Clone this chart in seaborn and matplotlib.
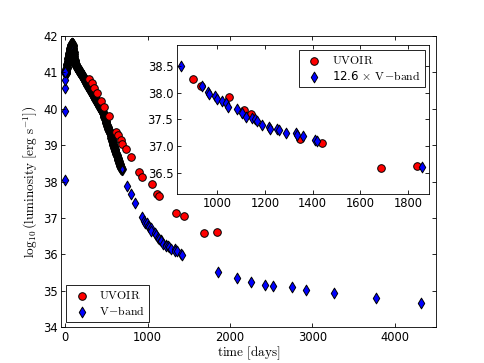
import numpy as np
import pandas as pd
import seaborn as sns
import matplotlib.pyplot as plt

# UVOIR bolometric light curve (days, log10 L)
uvoir_days = [293, 321, 353, 386, 434, 474, 526, 614, 643, 675, 695, 735, 795,
              897, 932, 1050, 1112, 1140, 1347, 1438, 1689, 1840]
uvoir_logl = [40.83, 40.70, 40.58, 40.44, 40.21, 40.05, 39.80, 39.36, 39.27, 39.15,
              39.04, 38.88, 38.67, 38.26, 38.12, 37.92, 37.67, 37.61, 37.14, 37.06,
              36.59, 36.62]

# V-band: first nights
v_first_days = [0.3, 0.6, 1.0, 1.5, 2.0]
v_first_logl = [38.03, 39.93, 40.56, 40.80, 41.00]

# V-band: rise to peak and drop
v_rise_days = [3, 4, 6, 8, 10, 13, 16, 19, 22, 25, 28, 31, 34, 37, 40, 43, 46, 49,
               52, 55, 58, 61, 64, 67, 70, 73, 76, 79, 82, 85, 88, 91, 94, 97, 100,
               103, 106, 109, 112, 115, 118, 121, 124, 127]
v_rise_logl = [41.00, 40.98, 40.99, 41.01, 41.04, 41.08, 41.12, 41.16, 41.20, 41.24,
               41.28, 41.32, 41.36, 41.40, 41.44, 41.47, 41.51, 41.54, 41.57, 41.60,
               41.63, 41.66, 41.68, 41.70, 41.72, 41.74, 41.76, 41.77, 41.78, 41.78,
               41.77, 41.75, 41.72, 41.68, 41.63, 41.57, 41.51, 41.45, 41.39, 41.34,
               41.30, 41.27, 41.24, 41.22]

# V-band: radioactive tail
v_tail_days = [130, 135, 140, 145, 150, 155, 160, 165, 170, 175, 180, 185, 190, 195,
               200, 205, 210, 215, 220, 225, 230, 235, 240, 245, 250, 255, 260, 265,
               270, 275, 280, 285, 290, 295, 300, 305, 310, 315, 320, 325, 330, 335,
               340, 345, 350, 355, 360, 365, 370, 375, 380, 385, 390, 395, 400, 405,
               410, 415, 420, 425, 430, 435, 440, 445, 450, 455, 460, 465, 470, 475,
               480, 485, 490, 495, 500, 505, 510, 515, 520, 525, 530, 535, 540, 545,
               550, 555, 560, 565, 570, 575, 580, 585, 590, 595, 600, 605, 610, 615,
               620, 625, 630, 635, 640, 645, 650, 655, 660, 665, 670, 675, 680, 685]
v_tail_logl = [41.20, 41.18, 41.16, 41.14, 41.12, 41.10, 41.09, 41.07, 41.05, 41.03,
               41.01, 41.00, 40.98, 40.96, 40.94, 40.92, 40.90, 40.88, 40.86, 40.84,
               40.82, 40.80, 40.78, 40.76, 40.74, 40.72, 40.70, 40.68, 40.66, 40.64,
               40.62, 40.60, 40.58, 40.56, 40.54, 40.52, 40.50, 40.48, 40.46, 40.44,
               40.42, 40.40, 40.38, 40.36, 40.34, 40.32, 40.30, 40.28, 40.26, 40.24,
               40.22, 40.20, 40.18, 40.16, 40.14, 40.12, 40.10, 40.08, 40.06, 40.04,
               40.02, 40.00, 39.98, 39.96, 39.94, 39.91, 39.88, 39.85, 39.81, 39.78,
               39.74, 39.71, 39.67, 39.64, 39.60, 39.56, 39.53, 39.51, 39.48, 39.45,
               39.42, 39.38, 39.35, 39.32, 39.28, 39.24, 39.20, 39.16, 39.12, 39.08,
               39.04, 39.00, 38.97, 38.93, 38.90, 38.86, 38.83, 38.79, 38.76, 38.72,
               38.69, 38.65, 38.62, 38.58, 38.55, 38.52, 38.49, 38.45, 38.42, 38.39,
               38.36, 38.33]

# V-band: late sparse epochs
v_late_days = [755, 795, 847, 937, 962, 966, 990, 1000, 1021, 1035, 1044, 1084, 1106,
               1120, 1144, 1158, 1165, 1190, 1218, 1221, 1249, 1260, 1288, 1330, 1335,
               1361, 1410, 1417, 1858, 2088, 2253, 2422, 2522, 2755, 2924, 3257, 3767,
               4317]
v_late_logl = [37.89, 37.65, 37.40, 37.03, 36.91, 36.87, 36.85, 36.79, 36.74, 36.71,
               36.64, 36.59, 36.53, 36.45, 36.43, 36.40, 36.37, 36.29, 36.26, 36.23,
               36.23, 36.20, 36.14, 36.14, 36.10, 36.09, 36.01, 35.99, 35.50, 35.35,
               35.23, 35.16, 35.12, 35.09, 35.03, 34.94, 34.79, 34.65]

v_scale = 12.6  # V-band multiplier in the inset

uvoir = pd.DataFrame({'day': uvoir_days, 'logl': uvoir_logl})
v_dense = pd.DataFrame({'day': v_rise_days + v_tail_days,
                        'logl': v_rise_logl + v_tail_logl})
v_sparse = pd.DataFrame({'day': v_first_days + v_late_days,
                         'logl': v_first_logl + v_late_logl})

plt.rcParams.update({
    'font.size': 8.3,
    'mathtext.fontset': 'cm',
    'axes.linewidth': 0.6,
    'xtick.direction': 'in', 'ytick.direction': 'in',
    'xtick.top': True, 'ytick.right': True,
    'xtick.major.size': 2.6, 'ytick.major.size': 2.6,
    'xtick.major.width': 0.6, 'ytick.major.width': 0.6,
    'xtick.major.pad': 2.5, 'ytick.major.pad': 2.5,
})

fig = plt.figure(figsize=(4.85, 3.63), dpi=100)
ax = fig.add_axes([0.126, 0.099, 0.773, 0.802])

kw_c = dict(marker='o', color='#ff0000', edgecolor='k', linewidth=0.7, s=30)
kw_d = dict(marker='d', color='#0000ff', edgecolor='k', linewidth=0.7, s=30)

# densely sampled early V-band, edges pile up into a dark band
sns.scatterplot(data=v_dense, x='day', y='logl', ax=ax, marker='d', color='#0000ff',
                edgecolor='k', linewidth=1.8, s=30)
sns.scatterplot(data=uvoir, x='day', y='logl', ax=ax, label=r'$\mathrm{UVOIR}$', **kw_c)
sns.scatterplot(data=v_sparse, x='day', y='logl', ax=ax,
                label=r'$\mathrm{V\!-\!band}$', **kw_d)

ax.set_xlim(-50, 4500)
ax.set_ylim(34, 42)
ax.set_xticks([0, 1000, 2000, 3000, 4000])
ax.set_yticks(range(34, 43))
ax.set_xlabel(r'$\mathrm{time\ [days]}$', fontsize=9.5, labelpad=1)
ax.set_ylabel(r'$\log_{10}\left(\mathrm{luminosity}\ \left[\mathrm{erg\ s^{-1}}\right]\right)$',
              fontsize=9.5, labelpad=2)
leg = ax.legend(loc='lower left', scatterpoints=1, fancybox=False, framealpha=1,
                edgecolor='k', fontsize=8.5, borderpad=0.35, handletextpad=0.45,
                labelspacing=0.25, borderaxespad=0.4)
leg.get_frame().set_linewidth(0.6)

# inset zoom on the late-time tail
ins = fig.add_axes([0.3643, 0.4656, 0.5208, 0.4105])
late_v = v_sparse[(v_sparse['day'] > 830) & (v_sparse['day'] < 1890)].copy()
late_v['logl'] = late_v['logl'] + np.log10(v_scale)
late_u = uvoir[uvoir['day'] > 830]
sns.scatterplot(data=late_u, x='day', y='logl', ax=ins, label=r'$\mathrm{UVOIR}$', **kw_c)
sns.scatterplot(data=late_v, x='day', y='logl', ax=ins,
                label=r'12.6 $\times$ $\mathrm{V\!-\!band}$', **kw_d)
ins.set_xlim(830, 1890)
ins.set_ylim(36.1, 38.9)
ins.set_xticks([1000, 1200, 1400, 1600, 1800])
ins.set_yticks([36.5, 37.0, 37.5, 38.0, 38.5])
ins.set_yticklabels(['36.5', '37.0', '37.5', '38.0', '38.5'])
ins.set_xlabel('')
ins.set_ylabel('')
leg2 = ins.legend(loc='upper right', scatterpoints=1, fancybox=False, framealpha=1,
                  edgecolor='k', fontsize=8.5, borderpad=0.35, handletextpad=0.45,
                  labelspacing=0.25, borderaxespad=0.4)
leg2.get_frame().set_linewidth(0.6)

fig.savefig('out.png', dpi=100)
